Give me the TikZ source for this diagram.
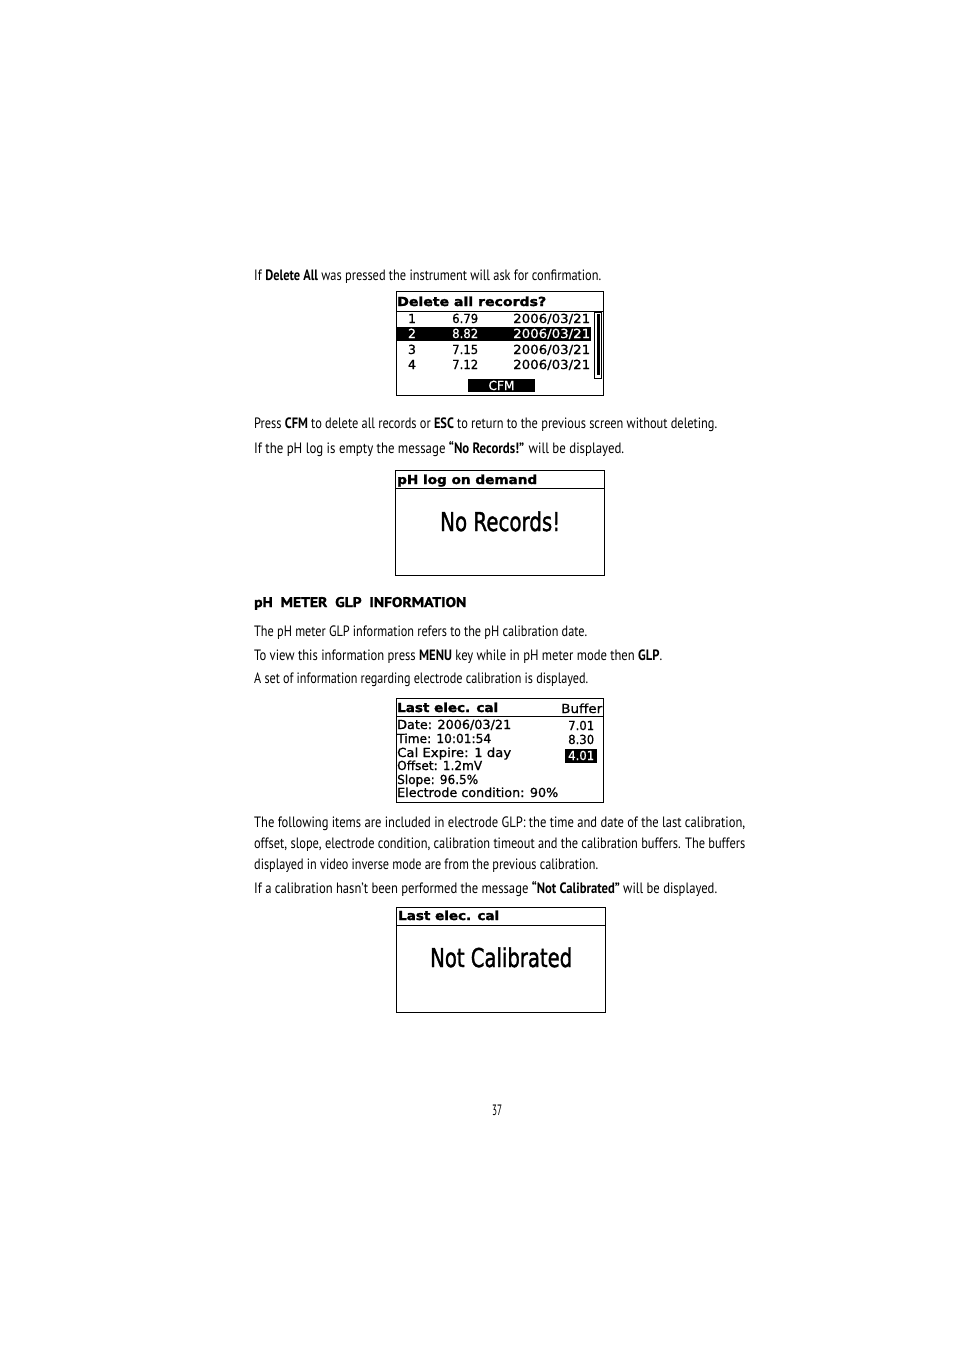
\documentclass[tikz,border=0pt]{standalone}
\usepackage{fontspec}
\usepackage{graphicx}
\setmainfont{PT Sans}
\newfontfamily\lcdfont{DejaVu Sans}[FakeBold=0.9, BoldFeatures={FakeBold=1.8}]
\newfontfamily\lcdbigfont{DejaVu Sans}[FakeBold=1.6]
\newfontfamily\heavyfont{PT Sans}[BoldFeatures={FakeBold=1.6}]
\newcommand\fitw[2]{\resizebox{#1}{\height}{#2}}
\begin{document}
\begin{tikzpicture}[x=1pt,y=-1pt,
  txt/.style={anchor=base west, inner sep=0pt, font=\fontsize{15}{18}\selectfont},
  head/.style={anchor=base west, inner sep=0pt, font=\heavyfont\bfseries\fontsize{14}{16}\selectfont},
  lcd/.style={anchor=base west, inner sep=0pt, font=\lcdfont\fontsize{12.5}{14}\selectfont},
  lcdb/.style={anchor=base west, inner sep=0pt, font=\lcdfont\bfseries\fontsize{12.5}{14}\selectfont},
  lcdbig/.style={anchor=base west, inner sep=0pt, font=\lcdbigfont\fontsize{26}{28}\selectfont},
  screen/.style={draw, line width=1pt},
  rule/.style={line width=1pt},
  inv/.style={fill=black}]
\fill[white] (0,0) rectangle (954,1351);
\useasboundingbox (0,0) rectangle (954,1351);

% ---------- text before screen 1
\node[txt] (t1) at (254,280) {\fitw{347pt}{If \textbf{Delete All} was pressed the instrument will ask for confirmation.}};

% ---------- screen 1
\draw[screen] (396,291) rectangle (603,395);
\draw[rule] (396,311) -- (603,311);
\node[lcdb] (s1h) at (397,306) {\fitw{149pt}{Delete all records?}};
\fill[inv] (396,327) rectangle (591,341);
\node[lcd, anchor=base] (r1n) at (412,323) {1};
\node[lcd] (r1v) at (452,323) {\fitw{26pt}{6.79}};
\node[lcd] (r1d) at (513,323) {\fitw{77pt}{2006/03/21}};
\node[lcd, anchor=base, white] (r2n) at (412,338) {2};
\node[lcd, white] (r2v) at (452,338) {\fitw{26pt}{8.82}};
\node[lcd, white] (r2d) at (513,338) {\fitw{77pt}{2006/03/21}};
\node[lcd, anchor=base] (r3n) at (412,354) {3};
\node[lcd] (r3v) at (452,354) {\fitw{26pt}{7.15}};
\node[lcd] (r3d) at (513,354) {\fitw{77pt}{2006/03/21}};
\node[lcd, anchor=base] (r4n) at (412,369) {4};
\node[lcd] (r4v) at (452,369) {\fitw{26pt}{7.12}};
\node[lcd] (r4d) at (513,369) {\fitw{77pt}{2006/03/21}};
\draw[line width=0.8pt] (594.5,312) rectangle (601.5,378);
\fill (596.5,314) rectangle (599.5,375);
\fill[inv] (468,379) rectangle (535,392);
\node[lcd, anchor=base, white] (cfm) at (501.5,390) {\fitw{26pt}{CFM}};

% ---------- text after screen 1
\node[txt] (t2) at (254,428) {\fitw{463pt}{Press \textbf{CFM} to delete all records or \textbf{ESC} to return to the previous screen without deleting.}};
\node[txt] (t3) at (254,453) {\fitw{370pt}{If the pH log is empty the message \textbf{“No Records!”} will be displayed.}};

% ---------- screen 2
\draw[screen] (395,470) rectangle (604,575);
\draw[rule] (395,488) -- (604,488);
\node[lcdb] (s2h) at (397,484) {\fitw{140pt}{pH log on demand}};
\node[lcdbig] (s2m) at (440,531) {\fitw{120pt}{No Records!}};

% ---------- heading and text
\node[head] (hd) at (254,607) {\fitw{212pt}{pH\ \ METER\ \ GLP\ \ INFORMATION}};
\node[txt] (t4) at (254,636) {\fitw{333pt}{The pH meter GLP information refers to the pH calibration date.}};
\node[txt] (t5) at (254,660) {\fitw{408pt}{To view this information press \textbf{MENU} key while in pH meter mode then \textbf{GLP}.}};
\node[txt] (t6) at (254,683) {\fitw{334pt}{A set of information regarding electrode calibration is displayed.}};

% ---------- screen 3
\draw[screen] (396,698) rectangle (603,802);
\draw[rule] (396,716) -- (603,716);
\node[lcdb] (s3h) at (397,712) {\fitw{101pt}{Last elec. cal}};
\node[lcd] (s3b) at (561,713) {\fitw{41pt}{Buffer}};
\node[lcd] (s3a) at (397,729) {\fitw{114pt}{Date: 2006/03/21}};
\node[lcd] (s3c) at (397,743) {\fitw{94pt}{Time: 10:01:54}};
\node[lcd] (s3d) at (397,757) {\fitw{114pt}{Cal Expire: 1 day}};
\node[lcd] (s3e) at (397,770) {\fitw{85pt}{Offset: 1.2mV}};
\node[lcd] (s3f) at (397,784) {\fitw{81pt}{Slope: 96.5\%}};
\node[lcd] (s3g) at (397,797) {\fitw{161pt}{Electrode condition: 90\%}};
\node[lcd] (s3v1) at (568,730) {\fitw{26pt}{7.01}};
\node[lcd] (s3v2) at (568,744) {\fitw{26pt}{8.30}};
\fill[inv] (565,749) rectangle (597,763);
\node[lcd, white] (s3v3) at (568,760) {\fitw{26pt}{4.01}};

% ---------- paragraph
\node[txt] (p1) at (254,827) {\fitw{491pt}{The following items are included in electrode GLP: the time and date of the last calibration,}};
\node[txt] (p2) at (254,848) {\fitw{491pt}{offset, slope, electrode condition, calibration timeout and the calibration buffers. The buffers}};
\node[txt] (p3) at (254,869) {\fitw{344pt}{displayed in video inverse mode are from the previous calibration.}};
\node[txt] (p4) at (254,893) {\fitw{463pt}{If a calibration hasn’t been performed the message \textbf{“Not Calibrated”} will be displayed.}};

% ---------- screen 4
\draw[screen] (396,907) rectangle (605,1012);
\draw[rule] (396,925) -- (605,925);
\node[lcdb] (s4h) at (398,920) {\fitw{101pt}{Last elec. cal}};
\node[lcdbig] (s4m) at (430,967) {\fitw{142pt}{Not Calibrated}};

% ---------- page number
\node[txt, anchor=base] (pg) at (497,1115) {\fitw{10pt}{37}};
\end{tikzpicture}
\end{document}
